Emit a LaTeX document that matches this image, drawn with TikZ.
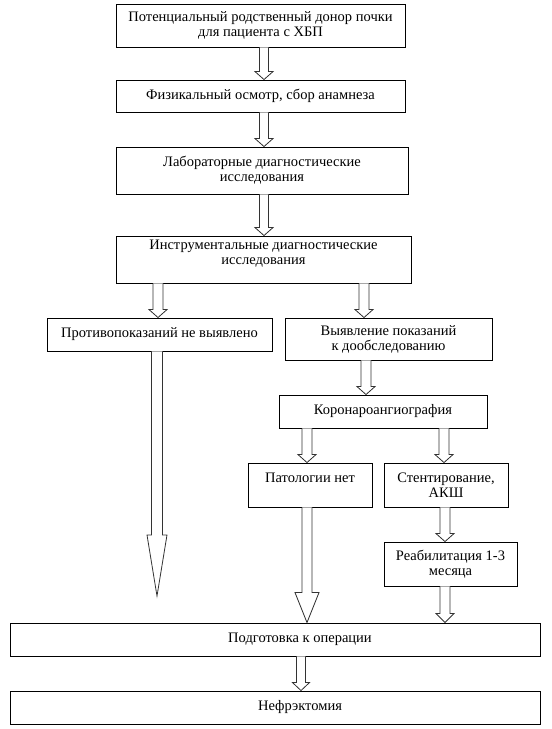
\documentclass[tikz,border=0pt]{standalone}
\usepackage{fontspec}
\setmainfont{Liberation Serif}
\usetikzlibrary{calc}
\tikzset{
  box/.style={draw=black, line width=0.9pt, fill=white, inner sep=0pt, align=center,
    font=\fontsize{14.5}{15}\selectfont},
  arr/.style={draw=black!80, line width=0.8pt, line join=miter, fill=white},
}
% #1 from anchor, #2 to anchor, #3 x centre, #4 shaft half width, #5 head half width, #6 head length
\newcommand{\blockarrow}[6]{%
  \draw[arr] let \p1=(#1), \p2=(#2) in
    ({#3pt-#4pt},\y1) -- ({#3pt-#4pt},{\y2+#6pt}) -- ({#3pt-#5pt},{\y2+#6pt}) --
    (#3pt,\y2) -- ({#3pt+#5pt},{\y2+#6pt}) -- ({#3pt+#4pt},{\y2+#6pt}) -- ({#3pt+#4pt},\y1);}
% #1 name, #2 x1, #3 y1, #4 x2, #5 y2, #6 text
\newcommand{\flowbox}[6]{%
  \node[box, minimum width={#4pt-#2pt}, minimum height={#5pt-#3pt}] (#1)
    at ({(#2+#4)/2},{(#3+#5)/2}) {#6};}
\begin{document}
\begin{tikzpicture}[x=1pt,y=-1pt]
\useasboundingbox (0,0) rectangle (552,729);
\flowbox{b1}{116}{4}{405}{47}{Потенциальный родственный донор почки\\для пациента с ХБП}
\flowbox{b2}{116}{80}{405}{112}{Физикальный осмотр, сбор анамнеза}
\flowbox{b3}{116}{147}{408}{194}{Лабораторные диагностические\\исследования}
\flowbox{b4}{116}{236}{411}{283}{Инструментальные диагностические\\исследования\\\mbox{}}
\flowbox{b5}{47}{318}{272}{351}{Противопоказаний не выявлено}
\flowbox{b6}{285}{318}{492}{360}{Выявление показаний\\к дообследованию}
\flowbox{b7}{279}{395}{487}{428}{Коронароангиография}
\flowbox{b8}{248}{463}{372}{507}{Патологии нет\\\mbox{}}
\flowbox{b9}{384}{463}{508}{507}{Стентирование,\\АКШ}
\flowbox{b10}{384}{542}{517}{586}{Реабилитация 1-3\\месяца}
\flowbox{b11}{10}{623}{540}{656}{\hspace*{50pt}Подготовка к операции}
\flowbox{b12}{10}{691}{540}{724}{\hspace*{50pt}Нефрэктомия}
\coordinate (endL) at (157,596);

\blockarrow{b1.south}{b2.north}{264}{4.5}{9}{8}
\blockarrow{b2.south}{b3.north}{264}{4.5}{9}{8}
\blockarrow{b3.south}{b4.north}{264}{4.5}{9}{8}
\blockarrow{b4.south}{b5.north}{158}{5}{9}{8}
\blockarrow{b4.south}{b6.north}{364}{5}{9}{8}
\blockarrow{b5.south}{endL}{157}{5.5}{10}{61}
\blockarrow{b6.south}{b7.north}{366}{5}{9}{8}
\blockarrow{b7.south}{b8.north}{307}{5}{9}{8}
\blockarrow{b7.south}{b9.north}{444}{5}{9}{8}
\blockarrow{b8.south}{b11.north}{307}{5}{12}{30}
\blockarrow{b9.south}{b10.north}{445}{5}{9}{8}
\blockarrow{b10.south}{b11.north}{445}{5}{9}{9}
\blockarrow{b11.south}{b12.north}{301}{4.5}{8.5}{8}
\end{tikzpicture}
\end{document}
